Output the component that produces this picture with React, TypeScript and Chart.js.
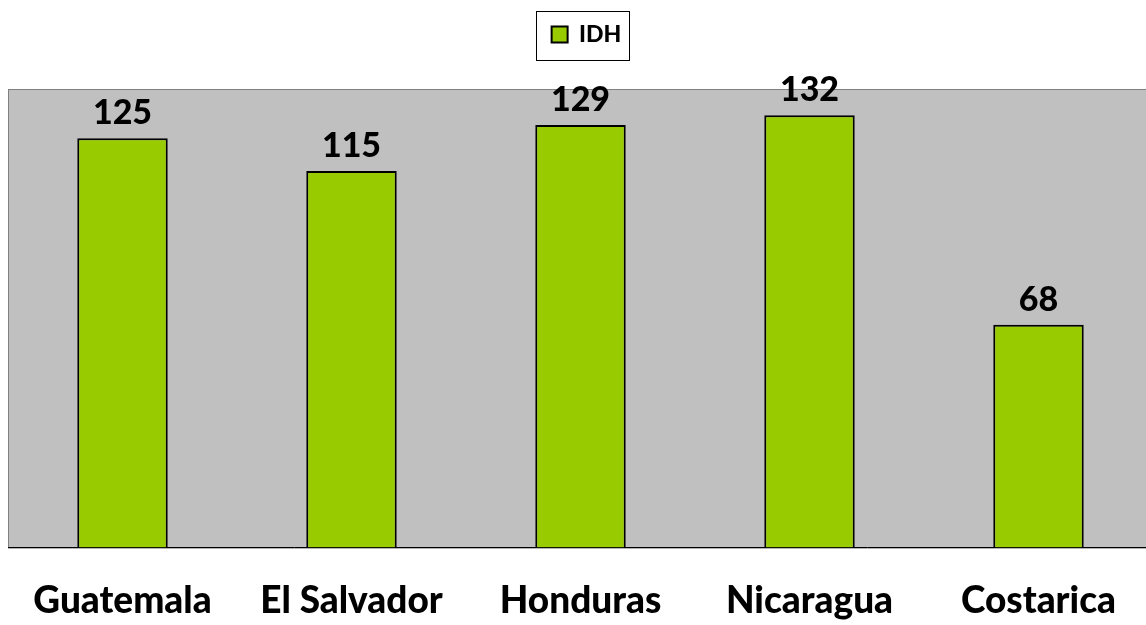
import React, { useEffect, useRef } from "react";
import { Chart, registerables } from "chart.js";

Chart.register(...registerables);

const categories = ["Guatemala", "El Salvador", "Honduras", "Nicaragua", "Costarica"];
const seriesName = "IDH";
const idhValues = [125, 115, 129, 132, 68];
const yMin = 0;
const yMax = 140;

const FONT = "Lato, 'Open Sans', 'DejaVu Sans', sans-serif";
const LEGEND_SHIFT = 6;

const plotBgPlugin = {
  id: "plotBg",
  beforeDraw(chart: any) {
    const { ctx, chartArea } = chart;
    if (!chartArea) return;
    ctx.save();
    ctx.fillStyle = "#C0C0C0";
    ctx.fillRect(chartArea.left, chartArea.top, chartArea.right - chartArea.left, chartArea.bottom - chartArea.top);
    ctx.strokeStyle = "#808080";
    ctx.lineWidth = 1;
    ctx.strokeRect(chartArea.left + 0.5, chartArea.top + 0.5, chartArea.right - chartArea.left - 1, chartArea.bottom - chartArea.top);
    ctx.restore();
  },
};

const legendPadPlugin = {
  id: "legendPad",
  afterInit(chart: any) {
    const lg = chart.legend;
    if (lg && !lg.__padded) {
      const origFit = lg.fit.bind(lg);
      lg.fit = function () {
        origFit();
        this.height += 33;
      };
      const origDraw = lg.draw.bind(lg);
      lg.draw = function () {
        const ctx = this.ctx;
        ctx.save();
        ctx.translate(LEGEND_SHIFT, 0);
        origDraw();
        ctx.restore();
      };
      lg.__padded = true;
    }
  },
  afterDraw(chart: any) {
    const lg = chart.legend;
    if (!lg || !lg.legendHitBoxes || !lg.legendHitBoxes.length) return;
    const hb = lg.legendHitBoxes[0];
    const { ctx } = chart;
    ctx.save();
    ctx.strokeStyle = "#000";
    ctx.lineWidth = 1;
    const left = Math.round(hb.left + LEGEND_SHIFT - 16) + 0.5;
    const right = Math.round(hb.left + LEGEND_SHIFT + hb.width + 8) + 0.5;
    const cy = hb.top + hb.height / 2;
    const top = Math.round(cy - 24) + 0.5;
    const bottom = Math.round(cy + 25) + 0.5;
    ctx.strokeRect(left, top, right - left, bottom - top);
    ctx.restore();
  },
};

const dataLabelPlugin = {
  id: "dataLabels",
  afterDatasetsDraw(chart: any) {
    const { ctx } = chart;
    chart.data.datasets.forEach((ds: any, di: number) => {
      const meta = chart.getDatasetMeta(di);
      meta.data.forEach((bar: any, i: number) => {
        ctx.save();
        ctx.font = `900 34px ${FONT}`;
        ctx.fillStyle = "#000";
        ctx.textAlign = "center";
        ctx.textBaseline = "alphabetic";
        ctx.fillText(String(ds.data[i]), bar.x, bar.y - 14);
        ctx.restore();
      });
    });
  },
};

export default function App() {
  const canvasRef = useRef<HTMLCanvasElement | null>(null);

  useEffect(() => {
    document.body.style.margin = "0";
    document.body.style.overflow = "hidden";
    const canvas = canvasRef.current;
    if (!canvas) return;
    const chart = new Chart(canvas, {
      type: "bar",
      data: {
        labels: categories,
        datasets: [
          {
            label: seriesName,
            data: idhValues,
            backgroundColor: "#99CC00",
            borderColor: "#000000",
            borderWidth: 2,
            categoryPercentage: 1,
            barPercentage: 0.395,
          },
        ],
      },
      options: {
        animation: false,
        responsive: false,
        maintainAspectRatio: false,
        layout: { padding: { left: 8, right: 0, top: 0, bottom: -21 } },
        plugins: {
          tooltip: { enabled: false },
          legend: {
            display: true,
            position: "top",
            labels: {
              color: "#000",
              boxWidth: 16,
              boxHeight: 16,
              padding: 23,
              font: { family: FONT, size: 23, weight: "900" },
            },
          },
        },
        scales: {
          x: {
            grid: { display: false },
            border: { display: true, color: "#000", width: 1 },
            ticks: {
              color: "#000",
              padding: 23,
              maxRotation: 0,
              autoSkip: false,
              font: { family: FONT, size: 37, weight: "900" },
            },
          },
          y: {
            display: false,
            min: yMin,
            max: yMax,
          },
        },
      },
      plugins: [plotBgPlugin, legendPadPlugin, dataLabelPlugin],
    } as any);
    return () => chart.destroy();
  }, []);

  return (
    <div style={{ position: "fixed", left: 0, top: 0, width: 1153, height: 625, background: "#fff" }}>
      <canvas ref={canvasRef} width={1153} height={625} style={{ display: "block" }} />
    </div>
  );
}
